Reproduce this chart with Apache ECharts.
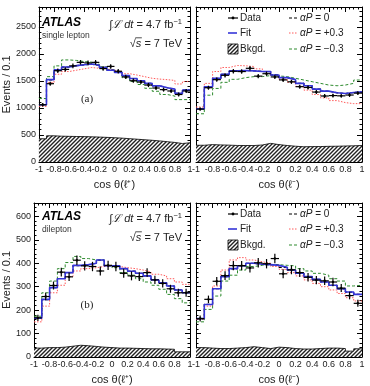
<!DOCTYPE html>
<html>
<head>
<meta charset="utf-8">
<script src="https://cdn.jsdelivr.net/npm/echarts@6/dist/echarts.min.js"></script>
<style>
    html, body { margin: 0; padding: 0; background: #fff; }
    #main { width: 370px; height: 386px; }
</style>
</head>
<body>
<div id="main"></div>
<script>
// bin centres, cos theta
var binCenters = [-0.95, -0.85, -0.75, -0.65, -0.55, -0.45, -0.35, -0.25, -0.15, -0.05,
                  0.05, 0.15, 0.25, 0.35, 0.45, 0.55, 0.65, 0.75, 0.85, 0.95];
var xTickLabels = ['-1', '-0.8', '-0.6', '-0.4', '-0.2', '0', '0.2', '0.4', '0.6', '0.8', '1'];

// (a) single lepton, l+
var slPosData  = [1060, 1450, 1690, 1715, 1780, 1845, 1835, 1845, 1730, 1770, 1680, 1575, 1505, 1480, 1425, 1370, 1340, 1315, 1250, 1315];
var slPosErr   = [33, 38, 41, 41, 42, 43, 43, 43, 42, 42, 41, 40, 39, 38, 38, 37, 37, 36, 35, 36];
var slPosFit   = [1060, 1525, 1705, 1760, 1785, 1800, 1815, 1790, 1750, 1700, 1660, 1600, 1545, 1505, 1455, 1410, 1375, 1350, 1270, 1330];
var slPosZero  = [1060, 1520, 1700, 1755, 1785, 1800, 1810, 1790, 1752, 1700, 1662, 1600, 1545, 1505, 1455, 1412, 1375, 1348, 1272, 1330];
var slPosPlus  = [1030, 1470, 1625, 1675, 1700, 1725, 1750, 1735, 1725, 1700, 1675, 1635, 1610, 1580, 1550, 1535, 1525, 1510, 1445, 1490];
var slPosMinus = [1175, 1580, 1780, 1890, 1880, 1860, 1850, 1810, 1760, 1700, 1660, 1560, 1490, 1435, 1365, 1310, 1250, 1220, 1155, 1155];
var slPosBkg   = [430, 485, 478, 475, 472, 470, 466, 462, 456, 450, 442, 432, 422, 412, 402, 390, 376, 362, 342, 356];

// (a) single lepton, l-
var slNegData  = [980, 1375, 1525, 1605, 1680, 1675, 1735, 1590, 1635, 1575, 1520, 1485, 1395, 1380, 1295, 1222, 1230, 1225, 1240, 1275];
var slNegErr   = [31, 37, 39, 40, 41, 41, 42, 40, 40, 40, 39, 39, 37, 37, 36, 35, 35, 35, 35, 36];
var slNegFit   = [985, 1393, 1550, 1625, 1687, 1693, 1687, 1675, 1675, 1612, 1562, 1525, 1456, 1412, 1350, 1312, 1281, 1268, 1287, 1300];
var slNegZero  = [985, 1390, 1548, 1625, 1685, 1693, 1688, 1675, 1672, 1612, 1562, 1525, 1456, 1412, 1350, 1312, 1281, 1268, 1287, 1300];
var slNegPlus  = [1018, 1456, 1675, 1750, 1787, 1781, 1768, 1725, 1675, 1600, 1531, 1475, 1400, 1331, 1250, 1187, 1137, 1100, 1081, 1081];
var slNegMinus = [893, 1237, 1362, 1475, 1531, 1562, 1581, 1581, 1600, 1593, 1581, 1550, 1518, 1487, 1456, 1425, 1412, 1425, 1456, 1518];
var slNegBkg   = [310, 322, 316, 312, 306, 305, 305, 315, 345, 322, 305, 292, 282, 285, 286, 290, 292, 296, 300, 306];

// (b) dilepton, l+
var dlPosData  = [167, 258, 305, 362, 342, 413, 389, 386, 367, 391, 386, 357, 346, 343, 360, 329, 314, 291, 274, 274];
var dlPosErr   = [13, 16, 17, 19, 18, 20, 20, 20, 19, 20, 20, 19, 19, 19, 19, 18, 18, 17, 17, 17];
var dlPosFit   = [166, 246, 296, 334, 360, 391, 394, 400, 414, 389, 389, 377, 366, 357, 346, 329, 317, 303, 286, 274];
var dlPosZero  = [166, 245, 296, 335, 360, 390, 394, 400, 413, 389, 388, 377, 366, 357, 346, 330, 317, 303, 286, 274];
var dlPosPlus  = [150, 217, 274, 306, 343, 367, 377, 381, 386, 389, 386, 381, 377, 371, 363, 353, 346, 334, 320, 310];
var dlPosMinus = [174, 274, 324, 377, 403, 429, 420, 414, 414, 391, 381, 360, 349, 334, 320, 306, 289, 267, 249, 231];
var dlPosBkg   = [38, 40, 40, 42, 46, 50, 48, 45, 42, 40, 38, 38, 37, 36, 35, 35, 34, 33, 22, 22];

// (b) dilepton, l-
var dlNegData  = [164, 246, 323, 347, 390, 390, 380, 402, 398, 420, 355, 372, 360, 340, 328, 325, 320, 294, 262, 229];
var dlNegErr   = [13, 16, 18, 19, 20, 20, 19, 20, 20, 20, 19, 19, 19, 18, 18, 18, 18, 17, 16, 15];
var dlNegFit   = [164, 224, 291, 343, 377, 389, 400, 396, 394, 391, 383, 371, 357, 343, 331, 320, 306, 291, 277, 267];
var dlNegZero  = [164, 225, 292, 343, 376, 389, 399, 396, 394, 391, 382, 371, 357, 343, 331, 320, 306, 291, 277, 267];
var dlNegPlus  = [160, 217, 303, 371, 414, 424, 414, 406, 400, 386, 374, 360, 346, 329, 314, 300, 286, 271, 253, 239];
var dlNegMinus = [150, 203, 260, 324, 349, 371, 386, 391, 394, 394, 391, 389, 377, 367, 357, 349, 334, 324, 303, 306];
var dlNegBkg   = [40, 38, 36, 36, 38, 40, 44, 40, 36, 42, 40, 36, 34, 34, 36, 38, 38, 36, 25, 35];

var FONT = 'Liberation Sans, Arial, sans-serif';
var HALF = 0.05;

function makeHatch() {
    var c = document.createElement('canvas');
    c.width = 4; c.height = 4;
    var ctx = c.getContext('2d');
    ctx.fillStyle = '#ffffff';
    ctx.fillRect(0, 0, 4, 4);
    ctx.strokeStyle = '#222222';
    ctx.lineWidth = 1.4;
    ctx.beginPath();
    ctx.moveTo(0, 4); ctx.lineTo(4, 0);
    ctx.moveTo(-1, 1); ctx.lineTo(1, -1);
    ctx.moveTo(3, 5); ctx.lineTo(5, 3);
    ctx.stroke();
    return c;
}
var hatch = makeHatch();

// text width helper, for the sqrt overline
var measureCtx = document.createElement('canvas').getContext('2d');
function textW(str, font) {
    measureCtx.font = font;
    return measureCtx.measureText(str).width;
}

// step edges from bin centres
function steps(vals) {
    var out = [];
    for (var i = 0; i < binCenters.length; i++) {
        out.push([binCenters[i] - HALF, vals[i]]);
    }
    out.push([binCenters[binCenters.length - 1] + HALF, vals[vals.length - 1]]);
    return out;
}

var panels = [
    { grid: { left: 33, top: 7, width: 157, height: 155 }, max: 2870, interval: 500, minor: 5,
      xname: 'cos θ(ℓ⁺)', yname: 'Events / 0.1', leftLabels: true,
      data: slPosData, err: slPosErr, fit: slPosFit, zero: slPosZero, plus: slPosPlus, minus: slPosMinus, bkg: slPosBkg },
    { grid: { left: 196, top: 7, width: 166, height: 155 }, max: 2870, interval: 500, minor: 5,
      xname: 'cos θ(ℓ⁻)', yname: '', leftLabels: false,
      data: slNegData, err: slNegErr, fit: slNegFit, zero: slNegZero, plus: slNegPlus, minus: slNegMinus, bkg: slNegBkg },
    { grid: { left: 33, top: 203, width: 157, height: 154 }, max: 657, interval: 100, minor: 5,
      xname: 'cos θ(ℓ⁺)', yname: 'Events / 0.1', leftLabels: true,
      data: dlPosData, err: dlPosErr, fit: dlPosFit, zero: dlPosZero, plus: dlPosPlus, minus: dlPosMinus, bkg: dlPosBkg },
    { grid: { left: 196, top: 203, width: 166, height: 154 }, max: 657, interval: 100, minor: 5,
      xname: 'cos θ(ℓ⁻)', yname: '', leftLabels: false,
      data: dlNegData, err: dlNegErr, fit: dlNegFit, zero: dlNegZero, plus: dlNegPlus, minus: dlNegMinus, bkg: dlNegBkg }
];

var grids = [], xAxes = [], yAxes = [], series = [];

panels.forEach(function (p, k) {
    grids.push(p.grid);
    var lineCfg = { show: true, onZero: false, lineStyle: { color: '#000', width: 1 } };
    xAxes.push({
        type: 'value', gridIndex: k, min: -1, max: 1, interval: 0.2, position: 'bottom',
        axisLine: lineCfg,
        axisTick: { inside: true, length: 5, lineStyle: { color: '#000' } },
        minorTick: { show: true, splitNumber: 4, length: 2.5, lineStyle: { color: '#000' } },
        splitLine: { show: false },
        axisLabel: {
            margin: 3, fontFamily: FONT, fontSize: 9, color: '#222',
            formatter: function (v) { return xTickLabels[Math.round((v + 1) / 0.2)]; }
        },
        name: p.xname, nameLocation: 'middle', nameGap: 17,
        nameTextStyle: { fontFamily: FONT, fontSize: 11, color: '#222' }
    });
    xAxes.push({
        type: 'value', gridIndex: k, min: -1, max: 1, interval: 0.2, position: 'top',
        axisLine: lineCfg,
        axisTick: { inside: true, length: 5, lineStyle: { color: '#000' } },
        minorTick: { show: true, splitNumber: 4, length: 2.5, lineStyle: { color: '#000' } },
        splitLine: { show: false }, axisLabel: { show: false }
    });
    yAxes.push({
        type: 'value', gridIndex: k, min: 0, max: p.max, interval: p.interval, position: 'left',
        axisLine: lineCfg,
        axisTick: { inside: true, length: 5, lineStyle: { color: '#000' } },
        minorTick: { show: true, splitNumber: p.minor, length: 2.5, lineStyle: { color: '#000' } },
        splitLine: { show: false },
        axisLabel: {
            show: p.leftLabels, showMaxLabel: false, margin: 3, fontFamily: FONT, fontSize: 9, color: '#222',
            formatter: function (v) { return String(v); }
        },
        name: p.yname, nameLocation: 'middle', nameGap: 22,
        nameTextStyle: { fontFamily: FONT, fontSize: 11, color: '#222' }
    });
    yAxes.push({
        type: 'value', gridIndex: k, min: 0, max: p.max, interval: p.interval, position: 'right',
        axisLine: lineCfg,
        axisTick: { inside: true, length: 5, lineStyle: { color: '#000' } },
        minorTick: { show: true, splitNumber: p.minor, length: 2.5, lineStyle: { color: '#000' } },
        splitLine: { show: false }, axisLabel: { show: false }
    });

    var xi = 2 * k, yi = 2 * k;
    series.push({
        name: 'Bkgd.', type: 'line', step: 'end', xAxisIndex: xi, yAxisIndex: yi,
        data: steps(p.bkg), symbol: 'none', silent: true,
        lineStyle: { color: '#000', width: 0.8 },
        areaStyle: { color: { image: hatch, repeat: 'repeat' }, opacity: 1 },
        z: 1
    });
    series.push({
        name: 'aP=+0.3', type: 'line', step: 'end', xAxisIndex: xi, yAxisIndex: yi,
        data: steps(p.plus), symbol: 'none', silent: true,
        lineStyle: { color: '#ff5a5a', width: 1, type: [1.5, 1.5] }, z: 2
    });
    series.push({
        name: 'aP=-0.3', type: 'line', step: 'end', xAxisIndex: xi, yAxisIndex: yi,
        data: steps(p.minus), symbol: 'none', silent: true,
        lineStyle: { color: '#2e8b2e', width: 1, type: [3, 2] }, z: 2
    });
    series.push({
        name: 'aP=0', type: 'line', step: 'end', xAxisIndex: xi, yAxisIndex: yi,
        data: steps(p.zero), symbol: 'none', silent: true,
        lineStyle: { color: '#000', width: 1.2, type: [3, 2] }, z: 3
    });
    series.push({
        name: 'Fit', type: 'line', step: 'end', xAxisIndex: xi, yAxisIndex: yi,
        data: steps(p.fit), symbol: 'none', silent: true,
        lineStyle: { color: '#3535d8', width: 1.6 }, z: 4
    });
    series.push({
        name: 'Data', type: 'custom', xAxisIndex: xi, yAxisIndex: yi, silent: true,
        data: binCenters.map(function (c, i) { return [c, p.data[i], p.err[i]]; }),
        renderItem: function (params, api) {
            var x = api.value(0), y = api.value(1), e = api.value(2);
            var l = api.coord([x - HALF, y]), r = api.coord([x + HALF, y]);
            var t = api.coord([x, y + e]), b = api.coord([x, y - e]);
            var st = { stroke: '#000', lineWidth: 1.2 };
            return {
                type: 'group',
                children: [
                    { type: 'line', shape: { x1: l[0], y1: l[1], x2: r[0], y2: r[1] }, style: st },
                    { type: 'line', shape: { x1: t[0], y1: t[1], x2: b[0], y2: b[1] }, style: st },
                    { type: 'circle', shape: { cx: l[0] / 2 + r[0] / 2, cy: l[1], r: 1.2 }, style: { fill: '#000' } }
                ]
            };
        },
        z: 5
    });
});

// labels and legend drawn as graphics
var graphics = [];
function txt(x, y, text, style) {
    graphics.push({
        type: 'text', x: x, y: y, z: 20,
        style: Object.assign({ text: text, fontFamily: FONT, fontSize: 10, fill: '#222', textVerticalAlign: 'middle' }, style || {})
    });
}
function hline(x1, x2, y, stroke, width, dash) {
    graphics.push({
        type: 'line', z: 20, shape: { x1: x1, y1: y, x2: x2, y2: y },
        style: { stroke: stroke, lineWidth: width, lineDash: dash || null }
    });
}

var LUMI_SIZE = 11;
var rootW = textW('√', LUMI_SIZE + 'px ' + FONT);
var sW = textW('s', 'italic ' + LUMI_SIZE + 'px ' + FONT);
var sqrtW = rootW + sW + textW(' = 7 TeV', LUMI_SIZE + 'px ' + FONT);
var sqrtX = 182 - sqrtW;

[0, 196].forEach(function (dy, idx) {
    var up = idx ? 2 : 0;
    txt(42, 22 + dy - up + 1, 'ATLAS', { fontWeight: 'bold', fontStyle: 'italic', fontSize: 12, fill: '#000' });
    txt(42, 34 + dy - up + 1.5, idx ? 'dilepton' : 'single lepton', { fontSize: 8.5, fill: '#333' });
    graphics.push({
        type: 'text', x: 182, y: 25 + dy - up, z: 20,
        style: {
            text: '{i|∫ℒ dt} = 4.7 fb{s|−1}', fontFamily: FONT, fontSize: LUMI_SIZE, fill: '#222',
            textAlign: 'right', textVerticalAlign: 'middle',
            rich: {
                i: { fontStyle: 'italic', fontFamily: FONT, fontSize: LUMI_SIZE, fill: '#222' },
                s: { fontSize: 7.5, fontFamily: FONT, fill: '#222', verticalAlign: 'top', padding: [0, 0, 6, 0] }
            }
        }
    });
    graphics.push({
        type: 'text', x: sqrtX, y: 44 + dy - up, z: 20,
        style: {
            text: '√{i|s} = 7 TeV', fontFamily: FONT, fontSize: LUMI_SIZE, fill: '#222',
            textAlign: 'left', textVerticalAlign: 'middle',
            rich: { i: { fontStyle: 'italic', fontFamily: FONT, fontSize: LUMI_SIZE, fill: '#222' } }
        }
    });
    hline(sqrtX + rootW - 0.5, sqrtX + rootW + sW + 0.5, 37.8 + dy - up, '#222', 0.8);
    txt(87, 99 + dy + (idx ? 10 : 0), idx ? '(b)' : '(a)', { fontFamily: 'Liberation Serif, serif', fontSize: 11, textAlign: 'center', fill: '#222' });

    // legend in the right panel
    var r1 = 18, r2 = 33, r3 = 49;
    if (idx) { r1 = 214; r2 = 229; r3 = 245; }
    hline(228, 238, r1, '#000', 1.2);
    graphics.push({ type: 'circle', z: 20, shape: { cx: 233, cy: r1, r: 1.4 }, style: { fill: '#000' } });
    txt(240, r1, 'Data');
    hline(228, 237, r2, '#3535d8', 1.6);
    txt(240, r2, 'Fit');
    graphics.push({
        type: 'rect', z: 20, shape: { x: 228, y: r3 - 5, width: 10, height: 10 },
        style: { fill: { image: hatch, repeat: 'repeat' }, stroke: '#000', lineWidth: 0.8 }
    });
    txt(240, r3, 'Bkgd.');
    hline(289, 298, r1, '#000', 1, [3, 2]);
    hline(289, 298, r2, '#ff5a5a', 1, [1.5, 1.5]);
    hline(289, 298, r3, '#2e8b2e', 1, [3, 2]);
    var rich = { a: { fontStyle: 'italic', fontFamily: FONT, fontSize: 10, fill: '#222' } };
    txt(300, r1, '{a|αP} = 0', { rich: rich });
    txt(300, r2, '{a|αP} = +0.3', { rich: rich });
    txt(300, r3, '{a|αP} = −0.3', { rich: rich });
});

var chart = echarts.init(document.getElementById('main'), null, { renderer: 'canvas' });
chart.setOption({
    animation: false,
    backgroundColor: '#fff',
    grid: grids,
    xAxis: xAxes,
    yAxis: yAxes,
    series: series,
    graphic: graphics
});
</script>
</body>
</html>
